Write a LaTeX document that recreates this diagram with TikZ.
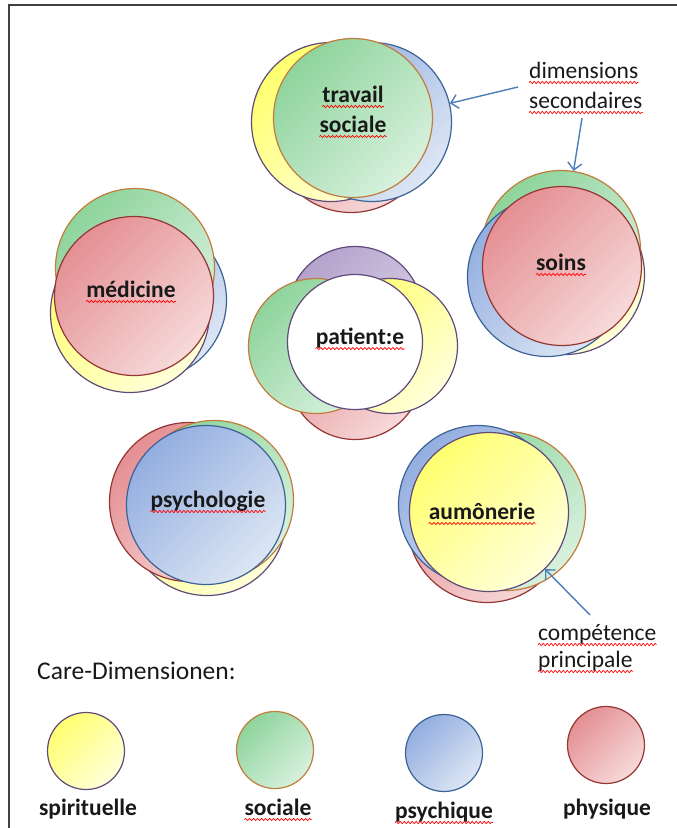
\documentclass[tikz,border=0pt]{standalone}
\usepackage{fontspec}
\setmainfont{Carlito}
\usetikzlibrary{arrows.meta,decorations.pathmorphing}
\definecolor{yelT}{HTML}{FFFF70}
\definecolor{yelL}{HTML}{FFFFDA}
\definecolor{yelB}{HTML}{604A7B}
\definecolor{grnT}{HTML}{8ED49C}
\definecolor{grnL}{HTML}{D8F1DE}
\definecolor{grnB}{HTML}{C17D3C}
\definecolor{bluT}{HTML}{93AEE0}
\definecolor{bluL}{HTML}{DDE6F4}
\definecolor{bluB}{HTML}{3B6396}
\definecolor{redT}{HTML}{E48F93}
\definecolor{redL}{HTML}{F7DADA}
\definecolor{redB}{HTML}{943634}
\definecolor{purT}{HTML}{B4A3CC}
\definecolor{purL}{HTML}{DDD5E8}
\definecolor{purB}{HTML}{604A7B}
\definecolor{arrC}{HTML}{4A7EBB}
\newcommand\sqg[1]{\draw[squig] ([yshift=-4.5pt]#1.base west) -- ([yshift=-4.5pt]#1.base east);}
\tikzset{
  circ/.style={circle, draw, line width=1.2pt, inner sep=0pt, minimum size=159pt},
  cyel/.style={circ, draw=yelB, top color=yelT, bottom color=yelL, shading angle=45},
  cgrn/.style={circ, draw=grnB, top color=grnT, bottom color=grnL, shading angle=45},
  cblu/.style={circ, draw=bluB, top color=bluT, bottom color=bluL, shading angle=45},
  cred/.style={circ, draw=redB, top color=redT, bottom color=redL, shading angle=45},
  cpur/.style={circ, draw=purB, top color=purT, bottom color=purL, shading angle=45},
  small/.style={minimum size=135pt},
  leg/.style={minimum size=77pt},
  lbl/.style={inner sep=0pt, anchor=base, text=black!90, font=\bfseries\fontsize{23.5}{28}\selectfont},
  note/.style={inner sep=0pt, anchor=base west, text=black!90, font=\fontsize{23.5}{28}\selectfont},
  squig/.style={red, line width=0.7pt, decorate, decoration={snake, amplitude=1.1pt, segment length=4pt}},
  arr/.style={arrC, line width=1.4pt, -{Straight Barb[length=7pt, width=14pt, line width=1.4pt]}},
  frame/.style={black!75, line width=2pt}
}
\begin{document}
\begin{tikzpicture}[x=1pt, y=-1pt]
\useasboundingbox (0,0) rectangle (677,828);
\draw[frame] (677,5) -- (9,5) -- (9,828);

% travail sociale
\node[cred] (ts-red) at (351,133) {};
\node[cyel] (ts-yel) at (331,122) {};
\node[cblu] (ts-blu) at (372,122) {};
\node[cgrn] (ts-grn) at (353,118) {};
\node[lbl] (ts-l1) at (353,102) {travail};
\node[lbl] (ts-l2) at (353,132) {sociale};
\sqg{ts-l1}\sqg{ts-l2}

% soins
\node[cyel] (so-yel) at (565,275) {};
\node[cgrn] (so-grn) at (561,250) {};
\node[cblu] (so-blu) at (547,277) {};
\node[cred] (so-red) at (562,266) {};
\node[lbl] (so-l) at (561,270) {soins};
\sqg{so-l}

% medicine
\node[cblu] (me-blu) at (147,300) {};
\node[cyel] (me-yel) at (130,313) {};
\node[cgrn] (me-grn) at (135,268) {};
\node[cred] (me-red) at (134,296) {};
\node[lbl] (me-l) at (131,297) {médicine};
\sqg{me-l}

% patient
\node[cpur, small] (pa-pur) at (355,314) {};
\node[cred, small] (pa-red) at (355,372) {};
\node[cgrn, small] (pa-grn) at (316,346) {};
\node[cyel, small] (pa-yel) at (390,346) {};
\node[circ, small, draw=purB, fill=white] (pa-main) at (355,342) {};
\node[lbl] (pa-l) at (360,344) {patient:e};
\sqg{pa-l}

% psychologie
\node[cyel] (ps-yel) at (207,516) {};
\node[cred] (ps-red) at (189,502) {};
\node[cgrn] (ps-grn) at (214,500) {};
\node[cblu] (ps-blu) at (206,505) {};
\node[lbl] (ps-l) at (208,507) {psychologie};
\sqg{ps-l}

% aumonerie
\node[cred] (au-red) at (487,523) {};
\node[cgrn] (au-grn) at (506,511) {};
\node[cblu] (au-blu) at (478,505) {};
\node[cyel] (au-yel) at (489,512) {};
\node[lbl] (au-l) at (482,519) {aumônerie};
\sqg{au-l}

% notes and arrows
\node[note] (n1a) at (529,78) {dimensions};
\node[note] (n1b) at (529,108) {secondaires};
\sqg{n1a}\sqg{n1b}
\node[note] (n2a) at (538,640) {compétence};
\node[note] (n2b) at (538,667) {principale};
\sqg{n2a}\sqg{n2b}
\coordinate (a1) at (518,87);
\coordinate (a2) at (582,118);
\coordinate (a3) at (590,615);
\draw[arr] (a1) -- (ts-blu);
\draw[arr] (a2) -- (so-grn);
\draw[arr] (a3) -- (au-yel);

% legend
\node[note, font=\fontsize{25.5}{30}\selectfont] (leg-title) at (37,679) {Care-Dimensionen:};
\node[cyel, leg] (lg-yel) at (86,751) {};
\node[cgrn, leg] (lg-grn) at (275,750) {};
\node[cblu, leg] (lg-blu) at (444,753) {};
\node[cred, leg] (lg-red) at (606,745) {};
\node[lbl] (lt-yel) at (88,815) {spirituelle};
\node[lbl] (lt-grn) at (278,815) {sociale};
\node[lbl] (lt-blu) at (444,818) {psychique};
\node[lbl] (lt-red) at (607,815) {physique};
\sqg{lt-grn}\sqg{lt-blu}
\end{tikzpicture}
\end{document}
